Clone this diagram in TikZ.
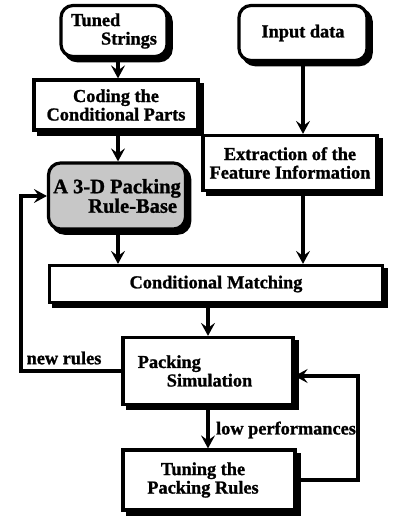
\documentclass[tikz,border=0pt]{standalone}
\usepackage{fontspec}
\setmainfont{Liberation Serif}[BoldFeatures={FakeBold=1.2}]
\usetikzlibrary{arrows.meta,shadows}
\begin{document}
\begin{tikzpicture}[x=1pt,y=-1pt,
  txt/.style={font=\fontsize{18.3}{18.5}\selectfont\bfseries},
  box/.style={txt, draw, line width=3.2pt, fill=white, inner sep=0pt, align=center,
    general shadow={fill=black, draw=black, line width=3.2pt, shadow xshift=4.2pt, shadow yshift=-4.2pt}},
  rbox/.style={box, rounded corners=12pt},
  arr/.style={line width=3.2pt, -{Stealth[length=13pt,width=14pt,inset=5pt]}},
  lab/.style={txt, inner sep=0pt}
]
\fill[white] (0,0) rectangle (407,518);
\useasboundingbox (0,0) rectangle (407,518);

\coordinate (colL) at (118,0);
\coordinate (fbL) at (21,300);
\coordinate (fbR) at (358,430);

\node[rbox, minimum width=106pt, minimum height=51pt, align=left] (ts) at (114,31)
  {Tuned\\\hspace*{30pt}Strings};
\node[rbox, minimum width=128pt, minimum height=55pt] (input) at (303,33) {Input data};
\node[box, minimum width=164pt, minimum height=50pt] (coding) at (116,105)
  {Coding the\\Conditional Parts};
\node[box, minimum width=174pt, minimum height=55pt] (extract) at (290,163)
  {Extraction of the\\Feature Information};
\node[rbox, fill=black!22, minimum width=137pt, minimum height=66pt, align=left,
  font=\fontsize{20.5}{19.5}\selectfont\bfseries] (rb) at (117,196)
  {A 3-D Packing\\\hspace*{35pt}Rule-Base};
\node[box, minimum width=333pt, minimum height=37pt] (cm) at (216,284)
  {Conditional\hspace{5pt}Matching};
\node[box, minimum width=170pt, minimum height=67pt, align=left] (ps) at (208,371)
  {Packing\\\hspace*{29pt}Simulation\hspace*{26pt}};
\node[box, minimum width=172pt, minimum height=60pt] (tune) at (209,480)
  {Tuning the\hspace*{12pt}\\Packing Rules\hspace*{12pt}};

\node[lab] (nr) at (64,358) {new rules};
\node[lab] (lp) at (286,430) {low performances};

\draw[arr] (ts.south -| colL) -- (coding.north -| colL);
\draw[arr] (coding.south -| colL) -- (rb.north -| colL);
\draw[arr] (rb.south -| colL) -- (cm.north -| colL);
\draw[arr] (input.south) -- (input.south |- extract.north);
\draw[arr] (extract.south -| input.south) -- (cm.north -| input.south);
\draw[arr] (cm.south -| ps.north) -- (ps.north);
\draw[arr] (ps.south) -- (tune.north -| ps.south);
\draw[arr] (ps.west) -| (fbL) |- (rb.west);
\draw[arr] (tune.east) -| (fbR) |- ([yshift=-5pt]ps.east);
\end{tikzpicture}
\end{document}
